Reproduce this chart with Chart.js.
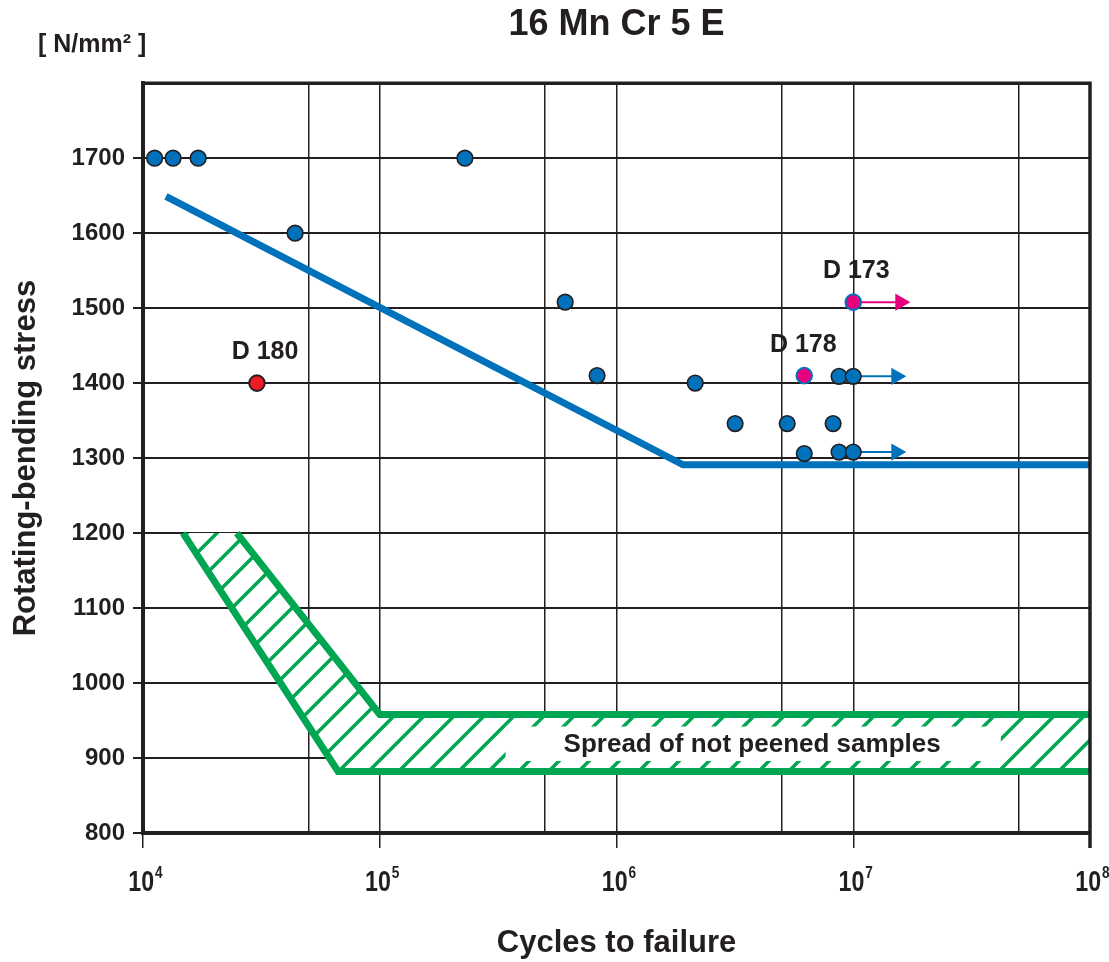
<!DOCTYPE html>
<html>
<head>
<meta charset="utf-8">
<title>16 Mn Cr 5 E</title>
<script src="https://cdn.jsdelivr.net/npm/chart.js@4.4.1/dist/chart.umd.min.js"></script>
<style>
  html, body { margin: 0; padding: 0; background: #fff; }
</style>
</head>
<body>
<canvas id="chart" width="1109" height="962"></canvas>
<script>
// axis ticks
const decades = [1e4, 1e5, 1e6, 1e7, 1e8];
const gridCycles = [1e4, 5e4, 1e5, 5e5, 1e6, 5e6, 1e7, 5e7, 1e8];

// shot peened samples (blue)
const sampleCycles = [1.12e4, 1.34e4, 1.71e4, 2.29e5, 4.39e4, 6.07e5, 8.28e5, 2.15e6, 3.17e6, 5.26e6, 8.22e6, 6.21e6, 8.71e6, 1e7, 8.71e6, 1e7];
const sampleStress = [1700, 1700, 1700, 1700, 1600, 1508, 1410, 1400, 1346, 1346, 1346, 1306, 1308, 1308, 1409, 1409];

// marked samples
const markNames = ['D 180', 'D 178', 'D 173'];
const markCycles = [3.03e4, 6.21e6, 1e7];
const markStress = [1400, 1410, 1508];

// run-outs (arrows)
const runoutStress = [1508, 1409, 1308];
const runoutFrom = [1.07e7, 1.07e7, 1.07e7];
const runoutTo = [1.58e7, 1.52e7, 1.52e7];

// S-N curve of peened samples
const curveCycles = [1.25e4, 1.91e6, 1e8];
const curveStress = [1649, 1291, 1291];

// spread band of not peened samples
const lowerCycles = [1.476e4, 6.67e4, 1e8];
const lowerStress = [1200, 882, 882];
const upperCycles = [2.49e4, 1e5, 1e8];
const upperStress = [1200, 958, 958];

const ink = '#231f20';
const blue = '#0072bc';
const green = '#00a651';
const pink = '#e6007e';
const red = '#ed1c24';

const pts = (xs, ys) => xs.map((v, i) => ({ x: v, y: ys[i] }));

// hatch pattern for the band
function hatch() {
  const s = 30;
  const c = document.createElement('canvas');
  c.width = s; c.height = s;
  const g = c.getContext('2d');
  g.fillStyle = '#fff';
  g.fillRect(0, 0, s, s);
  g.strokeStyle = green;
  g.lineWidth = 3.5;
  g.beginPath();
  g.moveTo(-s, s); g.lineTo(s, -s);
  g.moveTo(0, s); g.lineTo(s, 0);
  g.moveTo(0, 2 * s); g.lineTo(2 * s, 0);
  g.stroke();
  return g.createPattern(c, 'repeat');
}

const bandShape = pts(lowerCycles, lowerStress).concat(pts(upperCycles, upperStress).reverse());

const arrowSets = runoutStress.map((s, i) => ({
  data: [{ x: runoutFrom[i], y: s }, { x: runoutTo[i], y: s }],
  borderColor: i === 0 ? pink : blue,
  backgroundColor: i === 0 ? pink : blue,
  borderWidth: 2,
  pointRadius: [0, 10],
  pointStyle: 'triangle',
  rotation: 90,
  pointBorderWidth: 0,
  order: 2
}));

const decor = {
  id: 'decor',
  afterDatasetsDraw(chart) {
    const { ctx, chartArea: a, scales: { x, y } } = chart;
    ctx.save();
    // white box behind the band label
    const bx0 = x.getPixelForValue(3.4e5), bx1 = x.getPixelForValue(4.2e7);
    const by0 = y.getPixelForValue(942), by1 = y.getPixelForValue(896);
    ctx.fillStyle = '#fff';
    ctx.fillRect(bx0, by0, bx1 - bx0, by1 - by0);
    ctx.fillStyle = ink;
    ctx.font = 'bold 26px "Liberation Sans", Arial, sans-serif';
    ctx.textAlign = 'center';
    ctx.textBaseline = 'middle';
    ctx.fillText('Spread of not peened samples', x.getPixelForValue(3.74e6), y.getPixelForValue(918));

    // sample names
    ctx.font = 'bold 25px "Liberation Sans", Arial, sans-serif';
    const dx = [8, -1, 3];
    markNames.forEach((n, i) => {
      ctx.fillText(n, x.getPixelForValue(markCycles[i]) + dx[i], y.getPixelForValue(markStress[i]) - 31);
    });

    // top and right frame
    ctx.strokeStyle = ink;
    ctx.lineWidth = 3.5;
    ctx.beginPath();
    ctx.moveTo(a.left, a.top);
    ctx.lineTo(a.right, a.top);
    ctx.lineTo(a.right, a.bottom + 15);
    ctx.stroke();

    // decade labels 10^n, condensed
    ctx.textAlign = 'left';
    ctx.textBaseline = 'alphabetic';
    const sx = 0.8;
    decades.forEach(d => {
      const px = x.getPixelForValue(d);
      const exp = String(Math.round(Math.log10(d)));
      ctx.font = 'bold 29px "Liberation Sans", Arial, sans-serif';
      const wb = ctx.measureText('10').width * sx;
      ctx.font = 'bold 17px "Liberation Sans", Arial, sans-serif';
      const we = ctx.measureText(exp).width * sx;
      const x0 = px - (wb + we) / 2 + 2;
      ctx.save();
      ctx.translate(x0, 0);
      ctx.scale(sx, 1);
      ctx.font = 'bold 29px "Liberation Sans", Arial, sans-serif';
      ctx.fillText('10', 0, 891);
      ctx.font = 'bold 17px "Liberation Sans", Arial, sans-serif';
      ctx.fillText(exp, (wb + 1) / sx, 878);
      ctx.restore();
    });

    // unit
    ctx.font = 'bold 25px "Liberation Sans", Arial, sans-serif';
    ctx.textBaseline = 'middle';
    ctx.fillText('[ N/mm\u00b2 ]', 38, 45);
    ctx.restore();
  }
};

Chart.defaults.font.family = '"Liberation Sans", Arial, Helvetica, sans-serif';
Chart.defaults.color = ink;

new Chart(document.getElementById('chart'), {
  type: 'line',
  data: {
    datasets: [
      {
        data: bandShape,
        fill: 'shape',
        backgroundColor: hatch(),
        borderWidth: 0,
        pointRadius: 0,
        order: 6
      },
      {
        data: pts(lowerCycles, lowerStress),
        borderColor: green,
        borderWidth: 7,
        pointRadius: 0,
        fill: false,
        order: 5
      },
      {
        data: pts(upperCycles, upperStress),
        borderColor: green,
        borderWidth: 7,
        pointRadius: 0,
        fill: false,
        order: 5
      },
      {
        data: pts(curveCycles, curveStress),
        borderColor: blue,
        borderWidth: 7,
        borderCapStyle: 'butt',
        pointRadius: 0,
        fill: false,
        order: 3
      },
      ...arrowSets,
      {
        data: pts(sampleCycles, sampleStress),
        showLine: false,
        pointRadius: 7.8,
        pointBackgroundColor: blue,
        pointBorderColor: ink,
        pointBorderWidth: 1.6,
        order: 1
      },
      {
        data: pts(markCycles, markStress),
        showLine: false,
        pointRadius: 7.8,
        pointBackgroundColor: [red, pink, pink],
        pointBorderColor: [ink, blue, blue],
        pointBorderWidth: 2,
        order: 0
      }
    ]
  },
  options: {
    responsive: false,
    animation: false,
    devicePixelRatio: 1,
    layout: { padding: { left: 0, right: 19, top: 0, bottom: 0 } },
    plugins: {
      legend: { display: false },
      tooltip: { enabled: false },
      title: {
        display: true,
        fullSize: false,
        text: '16 Mn Cr 5 E',
        color: ink,
        font: { size: 36, weight: 'bold' },
        padding: { top: 3, bottom: 37 }
      }
    },
    scales: {
      x: {
        type: 'logarithmic',
        min: 1e4,
        max: 1e8,
        afterBuildTicks: s => { s.ticks = gridCycles.map(v => ({ value: v })); },
        afterFit: s => { s.height = 129; },
        ticks: { display: false },
        grid: {
          color: ink,
          lineWidth: 1.5,
          tickLength: 15,
          tickWidth: 1.5,
          tickColor: c => decades.includes(c.tick && c.tick.value) ? ink : 'rgba(0,0,0,0)'
        },
        border: { color: ink, width: 4 },
        title: {
          display: true,
          text: 'Cycles to failure',
          color: ink,
          font: { size: 31, weight: 'bold' },
          padding: { top: 0, bottom: 0 }
        }
      },
      y: {
        min: 800,
        max: 1800,
        afterFit: s => { s.width = 143; },
        ticks: {
          stepSize: 100,
          padding: 8,
          color: ink,
          font: { size: 24, weight: 'bold' },
          callback: v => v === 1800 ? '' : v
        },
        grid: {
          color: ink,
          lineWidth: 2,
          tickLength: 10,
          tickColor: c => (c.tick && c.tick.value === 1800) ? 'rgba(0,0,0,0)' : ink
        },
        border: { color: ink, width: 4 },
        title: {
          display: true,
          text: 'Rotating-bending stress',
          color: ink,
          font: { size: 31, weight: 'bold' },
          padding: { top: 8, bottom: 0 }
        }
      }
    }
  },
  plugins: [decor]
});
</script>
</body>
</html>
